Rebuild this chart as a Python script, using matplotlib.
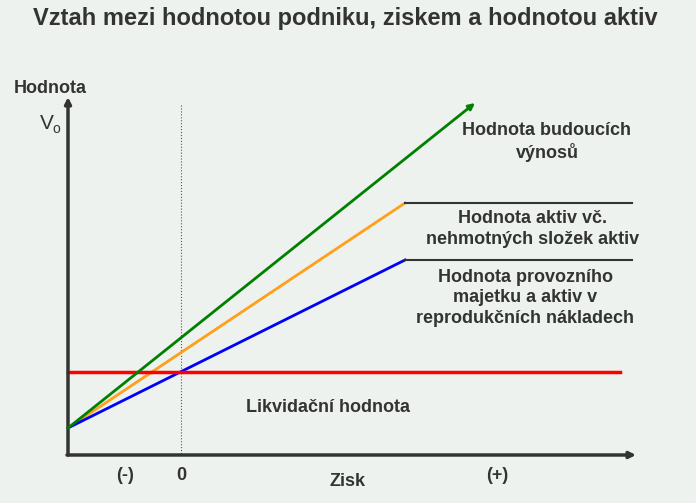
import matplotlib
matplotlib.use("Agg")
import matplotlib.pyplot as plt
plt.rcParams['font.family'] = ['Liberation Sans', 'DejaVu Sans']

# diagram geometry (pixel-like data units, y downward)
origin = (68, 455)
start = (68, 428)
green_end = (475, 103)
orange_pts_x = [68, 405]; orange_pts_y = [428, 203]
blue_pts_x = [68, 405]; blue_pts_y = [428, 260]
sep_x = [405, 632]; sep1_y = 203; sep2_y = 260
red_x = [68, 620]; red_y = 372
zero_x = 181

bg = "#eef2ee"
fig = plt.figure(figsize=(6.96, 5.03), dpi=100, facecolor=bg)
ax = fig.add_axes([0, 0, 1, 1], facecolor=bg)
ax.set_xlim(0, 696); ax.set_ylim(503, 0); ax.axis("off")
txt = "#333333"

ax.annotate("", xy=(origin[0], 97), xytext=origin,
            arrowprops=dict(arrowstyle="-|>", color=txt, lw=2.5, mutation_scale=9, shrinkA=0, shrinkB=0))
ax.annotate("", xy=(636, origin[1]), xytext=(origin[0]-1, origin[1]),
            arrowprops=dict(arrowstyle="-|>", color=txt, lw=2.5, mutation_scale=9, shrinkA=0, shrinkB=0))
ax.plot([zero_x, zero_x], [105, origin[1]], color="#555555", lw=0.8, ls=":")
ax.annotate("", xy=green_end, xytext=start,
            arrowprops=dict(arrowstyle="-|>", color="green", lw=2, mutation_scale=9, shrinkA=0, shrinkB=0))
ax.plot(orange_pts_x, orange_pts_y, color="#ff9f1a", lw=2)
ax.plot(blue_pts_x, blue_pts_y, color="#0000ff", lw=2)
ax.plot(sep_x, [sep1_y]*2, color=txt, lw=1.5)
ax.plot(sep_x, [sep2_y]*2, color=txt, lw=1.5)
ax.plot(red_x, [red_y]*2, color="#ff0000", lw=2.5)

fs = 13
kw = dict(color=txt, fontsize=fs, fontweight="bold", ha="center", va="center", linespacing=1.3)
ax.text(345, 18, "Vztah mezi hodnotou podniku, ziskem a hodnotou aktiv", color=txt,
        fontsize=17, fontweight="bold", ha="center", va="center")
ax.text(50, 88, "Hodnota", **kw)
ax.text(47, 123, "V", color=txt, fontsize=15, ha="center", va="center")
ax.text(56, 129, "o", color=txt, fontsize=10, ha="center", va="center")
ax.text(547, 142, "Hodnota budoucích\nvýnosů", **kw)
ax.text(533, 229, "Hodnota aktiv vč.\nnehmotných složek aktiv", **kw)
ax.text(525, 298, "Hodnota provozního\nmajetku a aktiv v\nreprodukčních nákladech", **kw)
ax.text(328, 408, "Likvidační hodnota", **kw)
ax.text(125, 476, "(-)", **kw)
ax.text(181, 476, "0", **kw)
ax.text(348, 482, "Zisk", **kw)
ax.text(497, 476, "(+)", **kw)

fig.savefig("out.png", dpi=100, facecolor=bg)
